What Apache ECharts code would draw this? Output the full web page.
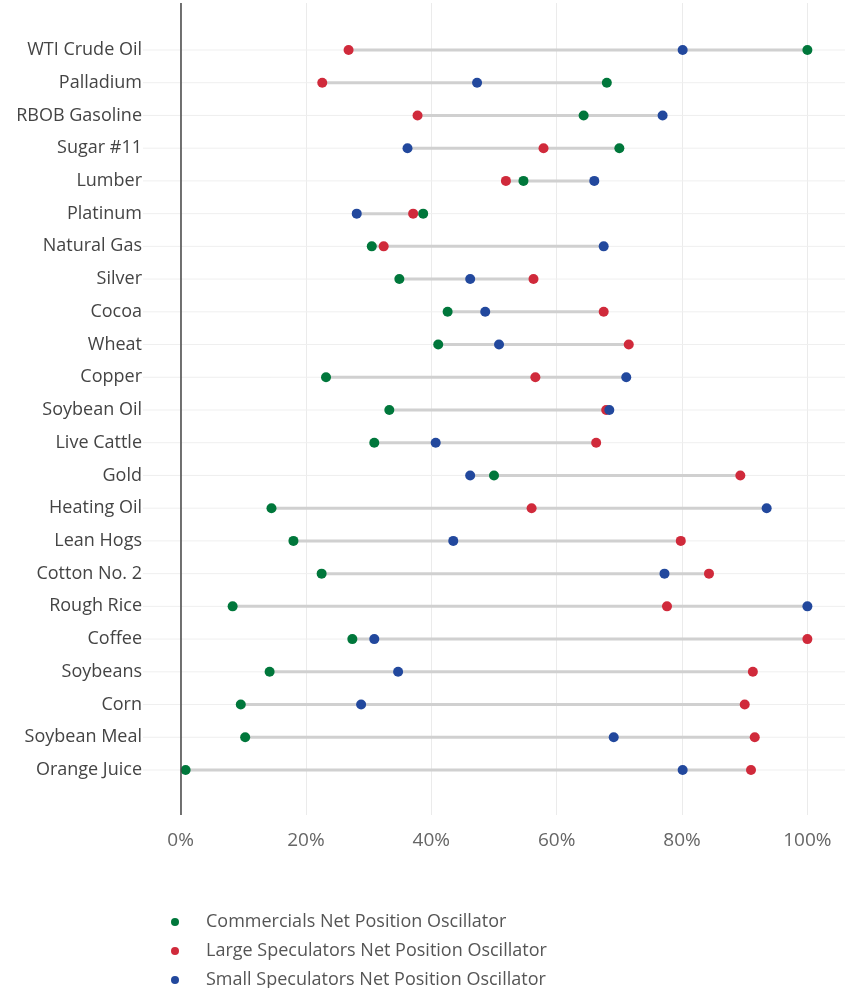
<!DOCTYPE html>
<html>
<head>
<meta charset="utf-8">
<script src="https://cdn.jsdelivr.net/npm/echarts@6/dist/echarts.min.js"></script>
<style>
  html, body { margin: 0; padding: 0; background: #fff; }
  #chart { width: 845px; height: 988px; }
</style>
</head>
<body>
<div id="chart"></div>
<script>
const categories = [
  'WTI Crude Oil', 'Palladium', 'RBOB Gasoline', 'Sugar #11', 'Lumber', 'Platinum',
  'Natural Gas', 'Silver', 'Cocoa', 'Wheat', 'Copper', 'Soybean Oil', 'Live Cattle',
  'Gold', 'Heating Oil', 'Lean Hogs', 'Cotton No. 2', 'Rough Rice', 'Coffee',
  'Soybeans', 'Corn', 'Soybean Meal', 'Orange Juice'
]
const commercials = [100, 68.0, 64.3, 70.0, 54.7, 38.7, 30.5, 34.9, 42.6, 41.1, 23.2, 33.3, 30.9, 50.0, 14.5, 18.0, 22.5, 8.3, 27.4, 14.2, 9.6, 10.3, 0.8]
const largeSpecs = [26.8, 22.6, 37.8, 57.9, 51.9, 37.1, 32.4, 56.3, 67.5, 71.5, 56.6, 67.9, 66.3, 89.3, 56.0, 79.8, 84.3, 77.6, 100, 91.3, 90.0, 91.6, 91.0]
const smallSpecs = [80.1, 47.3, 76.9, 36.2, 66.0, 28.1, 67.5, 46.2, 48.6, 50.8, 71.1, 68.4, 40.7, 46.2, 93.5, 43.5, 77.2, 100, 30.9, 34.7, 28.8, 69.1, 80.1]
const seriesNames = [
  'Commercials Net Position Oscillator',
  'Large Speculators Net Position Oscillator',
  'Small Speculators Net Position Oscillator'
]
const colors = ['#00773b', '#d02a3b', '#22489d']

const chart = echarts.init(document.getElementById('chart'))

// grey bar spans from the lowest to the highest of the three readings
const ranges = categories.map((c, i) => {
  const vals = [commercials[i], largeSpecs[i], smallSpecs[i]]
  return [i, Math.min(...vals), Math.max(...vals)]
})

function toPoints(values) {
  return values.map((v, i) => [v, i])
}

const font = '"Open Sans", "Noto Sans", sans-serif'

chart.setOption({
  animation: false,
  textStyle: { fontFamily: font },
  grid: { left: 143, right: 0, top: 3, bottom: 173, containLabel: false },
  legend: {
    data: seriesNames,
    orient: 'vertical',
    left: 171,
    top: 913,
    height: 90,
    padding: 0,
    icon: 'circle',
    itemWidth: 52,
    itemHeight: 8,
    itemGap: 11,
    textStyle: { color: '#555', fontSize: 18, fontFamily: font }
  },
  xAxis: {
    type: 'value',
    min: -6,
    max: 106,
    minInterval: 20,
    maxInterval: 20,
    axisLine: { show: false },
    axisTick: { show: false },
    axisLabel: {
      color: '#666',
      fontSize: 19,
      margin: 16,
      showMinLabel: false,
      showMaxLabel: false,
      formatter: (v) => v + '%'
    },
    splitLine: { show: true, showMinLine: false, showMaxLine: false, lineStyle: { color: '#ebebeb', width: 1 } }
  },
  yAxis: {
    type: 'value',
    inverse: true,
    min: -1.436,
    max: 23.375,
    minInterval: 1,
    maxInterval: 1,
    axisLine: { show: false },
    axisTick: { show: false },
    splitLine: { show: false },
    axisLabel: {
      color: '#444',
      fontSize: 18,
      margin: 1,
      showMinLabel: false,
      showMaxLabel: false,
      formatter: (v) => categories[v] || ''
    }
  },
  series: [
    {
      type: 'custom',
      silent: true,
      z: 1,
      encode: { x: [1, 2], y: 0 },
      data: ranges,
      renderItem(params, api) {
        const idx = api.value(0)
        const p1 = api.coord([api.value(1), idx])
        const p2 = api.coord([api.value(2), idx])
        const cs = params.coordSys
        return {
          type: 'group',
          children: [
            {
              type: 'line',
              shape: { x1: cs.x, y1: p1[1], x2: cs.x + cs.width, y2: p1[1] },
              style: { stroke: '#efefef', lineWidth: 1 }
            },
            {
              type: 'line',
              shape: { x1: p1[0], y1: p1[1], x2: p2[0], y2: p2[1] },
              style: { stroke: '#d0d0d0', lineWidth: 3 }
            }
          ]
        }
      },
      markLine: {
        silent: true,
        symbol: 'none',
        label: { show: false },
        lineStyle: { color: '#444', width: 1.5, type: 'solid' },
        data: [{ xAxis: 0 }]
      }
    },
    ...[commercials, largeSpecs, smallSpecs].map((values, k) => ({
      name: seriesNames[k],
      type: 'scatter',
      z: 3 + k,
      symbolSize: 10,
      itemStyle: { color: colors[k], opacity: 1 },
      data: toPoints(values)
    }))
  ]
})
</script>
</body>
</html>
